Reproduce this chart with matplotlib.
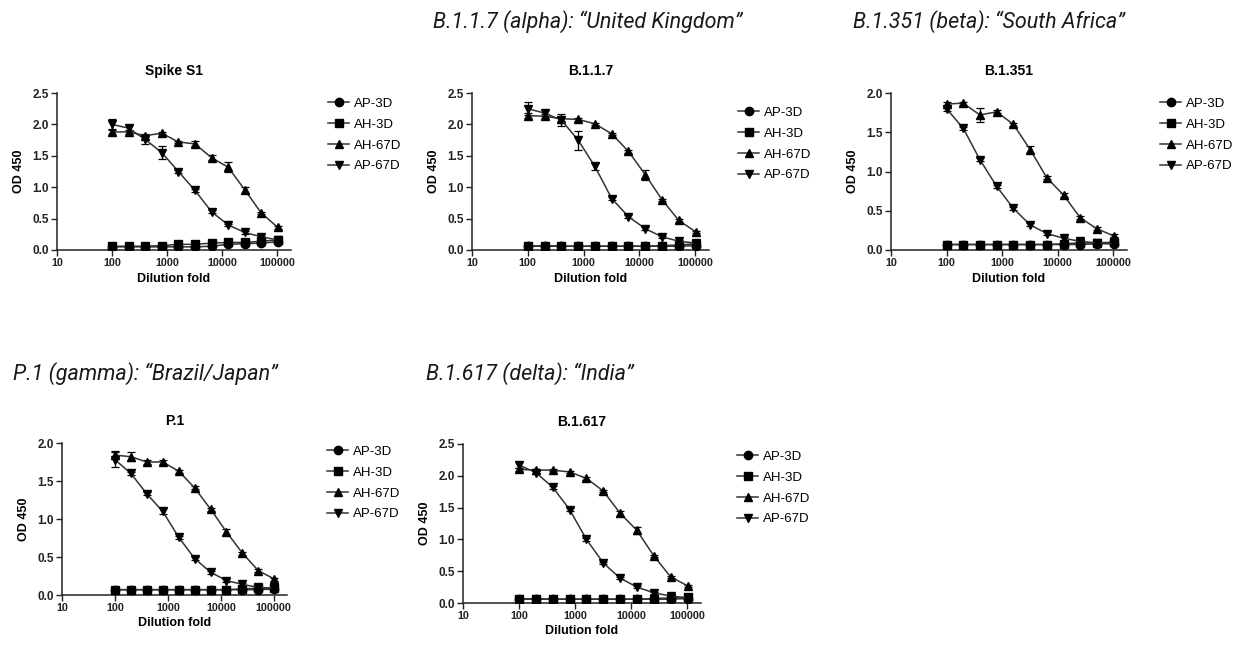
import matplotlib
matplotlib.use("Agg")
import matplotlib.pyplot as plt
import numpy as np

# dilution series shared by every panel
dilution = [100, 200, 400, 800, 1600, 3200, 6400, 12800, 25600, 51200, 102400]
series_names = ['AP-3D', 'AH-3D', 'AH-67D', 'AP-67D']

# Spike S1
s1_ap3d = [0.05, 0.05, 0.05, 0.05, 0.05, 0.05, 0.06, 0.09, 0.10, 0.11, 0.13]
s1_ah3d = [0.06, 0.06, 0.06, 0.07, 0.09, 0.09, 0.11, 0.12, 0.12, 0.14, 0.16]
s1_ah67d = [1.88, 1.88, 1.82, 1.86, 1.72, 1.69, 1.47, 1.32, 0.96, 0.59, 0.36]
s1_ap67d = [2.00, 1.94, 1.76, 1.55, 1.25, 0.95, 0.61, 0.40, 0.28, 0.21, 0.16]
s1_ah67d_err = [0.03, 0.03, 0.02, 0.02, 0.02, 0.04, 0.04, 0.08, 0.05, 0.02, 0.02]
s1_ap67d_err = [0.08, 0.05, 0.07, 0.10, 0.02, 0.02, 0.02, 0.02, 0.02, 0.02, 0.02]

# B.1.1.7
b117_ap3d = [0.06, 0.06, 0.06, 0.06, 0.06, 0.06, 0.06, 0.06, 0.06, 0.06, 0.07]
b117_ah3d = [0.06, 0.07, 0.06, 0.06, 0.06, 0.06, 0.06, 0.06, 0.07, 0.08, 0.10]
b117_ah67d = [2.14, 2.13, 2.09, 2.08, 2.01, 1.85, 1.57, 1.20, 0.80, 0.47, 0.29]
b117_ap67d = [2.25, 2.18, 2.07, 1.75, 1.33, 0.82, 0.53, 0.34, 0.21, 0.14, 0.11]
b117_ah67d_err = [0.04, 0.03, 0.03, 0.02, 0.02, 0.02, 0.03, 0.08, 0.02, 0.02, 0.02]
b117_ap67d_err = [0.10, 0.05, 0.10, 0.15, 0.05, 0.02, 0.02, 0.02, 0.02, 0.02, 0.02]

# B.1.351
b1351_ap3d = [0.07, 0.07, 0.07, 0.07, 0.07, 0.07, 0.07, 0.07, 0.07, 0.08, 0.08]
b1351_ah3d = [0.07, 0.07, 0.07, 0.07, 0.07, 0.07, 0.07, 0.08, 0.09, 0.09, 0.10]
b1351_ah67d = [1.86, 1.87, 1.72, 1.76, 1.60, 1.28, 0.92, 0.70, 0.41, 0.27, 0.18]
b1351_ap67d = [1.80, 1.55, 1.15, 0.81, 0.53, 0.32, 0.21, 0.15, 0.11, 0.09, 0.08]
b1351_ah67d_err = [0.03, 0.02, 0.09, 0.02, 0.02, 0.04, 0.02, 0.02, 0.02, 0.02, 0.02]
b1351_ap67d_err = [0.03, 0.02, 0.02, 0.02, 0.02, 0.02, 0.02, 0.02, 0.02, 0.02, 0.02]

# P.1
p1_ap3d = [0.07, 0.07, 0.07, 0.07, 0.07, 0.07, 0.07, 0.07, 0.07, 0.07, 0.08]
p1_ah3d = [0.07, 0.07, 0.07, 0.07, 0.07, 0.07, 0.07, 0.07, 0.08, 0.09, 0.09]
p1_ah67d = [1.84, 1.82, 1.75, 1.75, 1.63, 1.41, 1.13, 0.83, 0.55, 0.32, 0.21]
p1_ap67d = [1.78, 1.60, 1.33, 1.10, 0.76, 0.48, 0.30, 0.19, 0.14, 0.10, 0.09]
p1_ah67d_err = [0.05, 0.06, 0.02, 0.02, 0.02, 0.02, 0.02, 0.04, 0.02, 0.02, 0.02]
p1_ap67d_err = [0.10, 0.02, 0.02, 0.04, 0.02, 0.02, 0.02, 0.02, 0.02, 0.02, 0.02]

# B.1.617
b1617_ap3d = [0.06, 0.06, 0.06, 0.06, 0.06, 0.06, 0.06, 0.06, 0.06, 0.06, 0.07]
b1617_ah3d = [0.06, 0.07, 0.06, 0.06, 0.06, 0.06, 0.06, 0.06, 0.07, 0.08, 0.09]
b1617_ah67d = [2.10, 2.09, 2.09, 2.06, 1.96, 1.76, 1.41, 1.14, 0.74, 0.41, 0.27]
b1617_ap67d = [2.17, 2.05, 1.82, 1.47, 1.00, 0.63, 0.39, 0.25, 0.16, 0.11, 0.08]
b1617_ah67d_err = [0.03, 0.02, 0.02, 0.02, 0.02, 0.02, 0.04, 0.05, 0.02, 0.02, 0.02]
b1617_ap67d_err = [0.04, 0.02, 0.02, 0.02, 0.02, 0.02, 0.02, 0.02, 0.02, 0.02, 0.02]

titles = ['Spike S1', 'B.1.1.7', 'B.1.351', 'P.1', 'B.1.617']
headers = ['B.1.1.7 (alpha): \u201cUnited Kingdom\u201d', 'B.1.351 (beta): \u201cSouth Africa\u201d',
           'P.1 (gamma): \u201cBrazil/Japan\u201d', 'B.1.617 (delta): \u201cIndia\u201d']
ytops = [2.5, 2.5, 2.0, 2.0, 2.5]

panel_values = [
    (s1_ap3d, s1_ah3d, s1_ah67d, s1_ap67d, s1_ah67d_err, s1_ap67d_err),
    (b117_ap3d, b117_ah3d, b117_ah67d, b117_ap67d, b117_ah67d_err, b117_ap67d_err),
    (b1351_ap3d, b1351_ah3d, b1351_ah67d, b1351_ap67d, b1351_ah67d_err, b1351_ap67d_err),
    (p1_ap3d, p1_ah3d, p1_ah67d, p1_ap67d, p1_ah67d_err, p1_ap67d_err),
    (b1617_ap3d, b1617_ah3d, b1617_ah67d, b1617_ap67d, b1617_ah67d_err, b1617_ap67d_err),
]

plt.rcParams['font.family'] = ['Liberation Sans', 'DejaVu Sans']

W, H = 1238, 645
fig = plt.figure(figsize=(W / 100, H / 100), dpi=100)

# panel boxes in pixels: left, width, top, bottom
boxes = [(57, 234, 93, 250), (472, 237, 93, 250), (891, 236, 93, 250),
         (62, 225, 443, 595), (463, 238, 444, 603)]
# legend anchor in pixels: handle left, vertical centre of the rows
legend_pos = [(328, 135), (738, 144), (1160, 135), (327, 483), (737, 488)]

markers = ['o', 's', '^', 'v']

for k in range(5):
    left, width, top, bottom = boxes[k]
    ax = fig.add_axes([left / W, 1 - bottom / H, width / W, (bottom - top) / H])
    ap3d, ah3d, ah67d, ap67d, ah_err, ap_err = panel_values[k]
    ys = [ap3d, ah3d, ah67d, ap67d]
    errs = [None, None, ah_err, ap_err]
    for y, m, name, e in zip(ys, markers, series_names, errs):
        if e is not None:
            ax.errorbar(dilution, y, yerr=e, fmt='none', ecolor='black',
                        elinewidth=0.9, capsize=3, capthick=0.9, zorder=2)
        ax.plot(dilution, y, color='#333333', lw=1.1, marker=m, ms=6,
                mfc='black', mec='black', label=name, zorder=3)

    ax.set_xscale('log')
    ax.set_xlim(10, 10 ** 5.25)
    ax.set_ylim(0, ytops[k])
    ax.set_xticks([10, 100, 1000, 10000, 100000])
    ax.set_xticklabels(['10', '100', '1000', '10000', '100000'])
    ax.minorticks_off()
    ax.set_yticks(np.arange(0, ytops[k] + 0.01, 0.5))
    ax.yaxis.set_major_formatter(matplotlib.ticker.FormatStrFormatter('%.1f'))
    for s in ['top', 'right']:
        ax.spines[s].set_visible(False)
    for s in ['left', 'bottom']:
        ax.spines[s].set_linewidth(1.1)
        ax.spines[s].set_color('#222222')
    ax.tick_params(direction='out', length=4, width=1.0, pad=2, colors='#222222')
    ax.tick_params(axis='x', labelsize=7.8)
    ax.tick_params(axis='y', labelsize=8.5)
    for lab in ax.get_xticklabels() + ax.get_yticklabels():
        lab.set_fontweight('bold')
    ax.set_xlabel('Dilution fold', fontsize=9, fontweight='bold', labelpad=3)
    ax.set_ylabel('OD 450', fontsize=9, fontweight='bold', labelpad=5)
    ax.set_title(titles[k], fontsize=10, fontweight='bold', pad=13)

    lx, ly = legend_pos[k]
    ax.legend(loc='center left', bbox_to_anchor=(lx / W, 1 - ly / H),
              bbox_transform=fig.transFigure, frameon=False, fontsize=9.5,
              handlelength=1.6, handletextpad=0.4, borderpad=0,
              borderaxespad=0, labelspacing=0.65)

# italic headers above the variant panels
header_xy = [(433, 28), (853, 28), (13, 380), (426, 380)]
for txt, (hx, hy) in zip(headers, header_xy):
    fig.text(hx / W, 1 - hy / H, txt, fontsize=15.5, style='italic',
             family=['Roboto', 'DejaVu Sans'],
             ha='left', va='baseline', color='#1a1a1a')

fig.savefig('out.png', dpi=100)
